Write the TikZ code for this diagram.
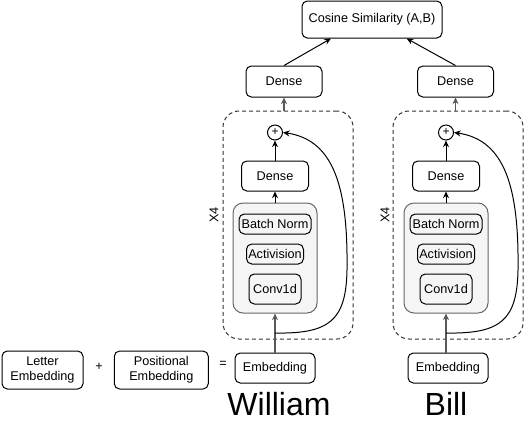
\documentclass[tikz,border=0pt]{standalone}
\usepackage{fontspec}
\setmainfont{Liberation Sans}
\usetikzlibrary{positioning,shapes,arrows.meta}

\begin{document}
\begin{tikzpicture}[
    x=0.75pt, y=-0.75pt,
    font=\fontsize{9.5}{11.25}\selectfont,
    block/.style={draw, rectangle, rounded corners=4pt, inner sep=1pt, align=center, line width=0.75pt},
    repeatbox/.style={draw=black!80, rectangle, rounded corners=12pt, dash pattern=on 3pt off 2.25pt, line width=0.75pt, minimum width=97.5pt, minimum height=171pt},
    convbox/.style={draw=black!60, fill=black!4, rectangle, rounded corners=7.5pt, line width=0.75pt, minimum width=63pt, minimum height=82.5pt},
    addnode/.style={draw, circle, inner sep=0pt, minimum size=11.25pt, line width=0.75pt, font=\fontsize{9}{9}\selectfont},
    wordlabel/.style={font=\fontsize{24}{24}\selectfont},
    arrow/.style={-{Stealth[length=5pt,width=4.5pt]}, line width=0.75pt},
    grayarrow/.style={arrow, draw=black!65, line width=1.1pt}
]
\useasboundingbox (0,0) rectangle (524,426);

% Output
\node[block, minimum width=105pt, minimum height=27.75pt] (cosine) at (372,19.5) {Cosine Similarity (A,B)};
\node[block, minimum width=57pt, minimum height=23.25pt] (outA) at (284,81.5) {Dense};
\node[block, minimum width=57pt, minimum height=23.25pt] (outB) at (455.5,81.5) {Dense};

% Repeated blocks
\node[repeatbox] (loopA) at (288,225) {};
\node[repeatbox] (loopB) at (458,225) {};
\node[rotate=90] (timesA) at (214,215) {X4};
\node[rotate=90] (timesB) at (385,215) {X4};

% Column A (William)
\node[addnode] (plusA) at (275,132.5) {+};
\node[block, minimum width=50.25pt, minimum height=22.5pt] (denseA) at (275,176) {Dense};
\node[convbox] (convA) at (275,258) {};
\node[block, minimum width=54pt, minimum height=15pt] (normA) at (275,224) {Batch Norm};
\node[block, minimum width=42.75pt, minimum height=15pt] (actA) at (275,254) {Activision};
\node[block, minimum width=39pt, minimum height=22.5pt] (convdA) at (275,289) {Conv1d};
\node[block, minimum width=60pt, minimum height=22.5pt] (embA) at (275,368) {Embedding};
\node[wordlabel] (wordA) at (279,404) {William};
\coordinate (skipA) at (275,333);

% Column B (Bill)
\node[addnode] (plusB) at (446,132.5) {+};
\node[block, minimum width=50.25pt, minimum height=22.5pt] (denseB) at (446,176) {Dense};
\node[convbox] (convB) at (446,258) {};
\node[block, minimum width=54pt, minimum height=15pt] (normB) at (446,224) {Batch Norm};
\node[block, minimum width=42.75pt, minimum height=15pt] (actB) at (446,254) {Activision};
\node[block, minimum width=39pt, minimum height=22.5pt] (convdB) at (446,289) {Conv1d};
\node[block, minimum width=60pt, minimum height=22.5pt] (embB) at (448,368) {Embedding};
\node[wordlabel] (wordB) at (446,404) {Bill};
\coordinate (skipB) at (446,333);

% Embedding sum
\node[block, minimum width=60.75pt, minimum height=28.5pt] (letter) at (42.5,370) {Letter\\Embedding};
\node (sum) at (99,367) {+};
\node[block, minimum width=70.5pt, minimum height=28.5pt] (position) at (161.3,370) {Positional\\Embedding};
\node (equals) at (223,364.5) {=};

% Connections
\draw[arrow] (outA.north) -- ([xshift=-30.75pt]cosine.south);
\draw[arrow] (outB.north) -- ([xshift=26pt]cosine.south);
\draw[grayarrow] (outA |- loopA.north) -- (outA.south);
\draw[grayarrow] (outB |- loopB.north) -- (outB.south);
\draw[arrow] (denseA) -- (plusA);
\draw[arrow] (denseB) -- (plusB);
\draw[arrow] (convA) -- (denseA);
\draw[arrow] (convB) -- (denseB);
\draw[grayarrow] (embA) -- (convA);
\draw[grayarrow] (embB.north -| convB) -- (convB.south);

% Residual
\draw[arrow] (skipA) .. controls (330,334) and (346,320) .. (347,270)
    .. controls (348,190) and (335,140) .. (plusA.east);
\draw[arrow] (skipB) .. controls (501,334) and (517,320) .. (518,270)
    .. controls (519,190) and (506,140) .. (plusB.east);

\end{tikzpicture}
\end{document}
